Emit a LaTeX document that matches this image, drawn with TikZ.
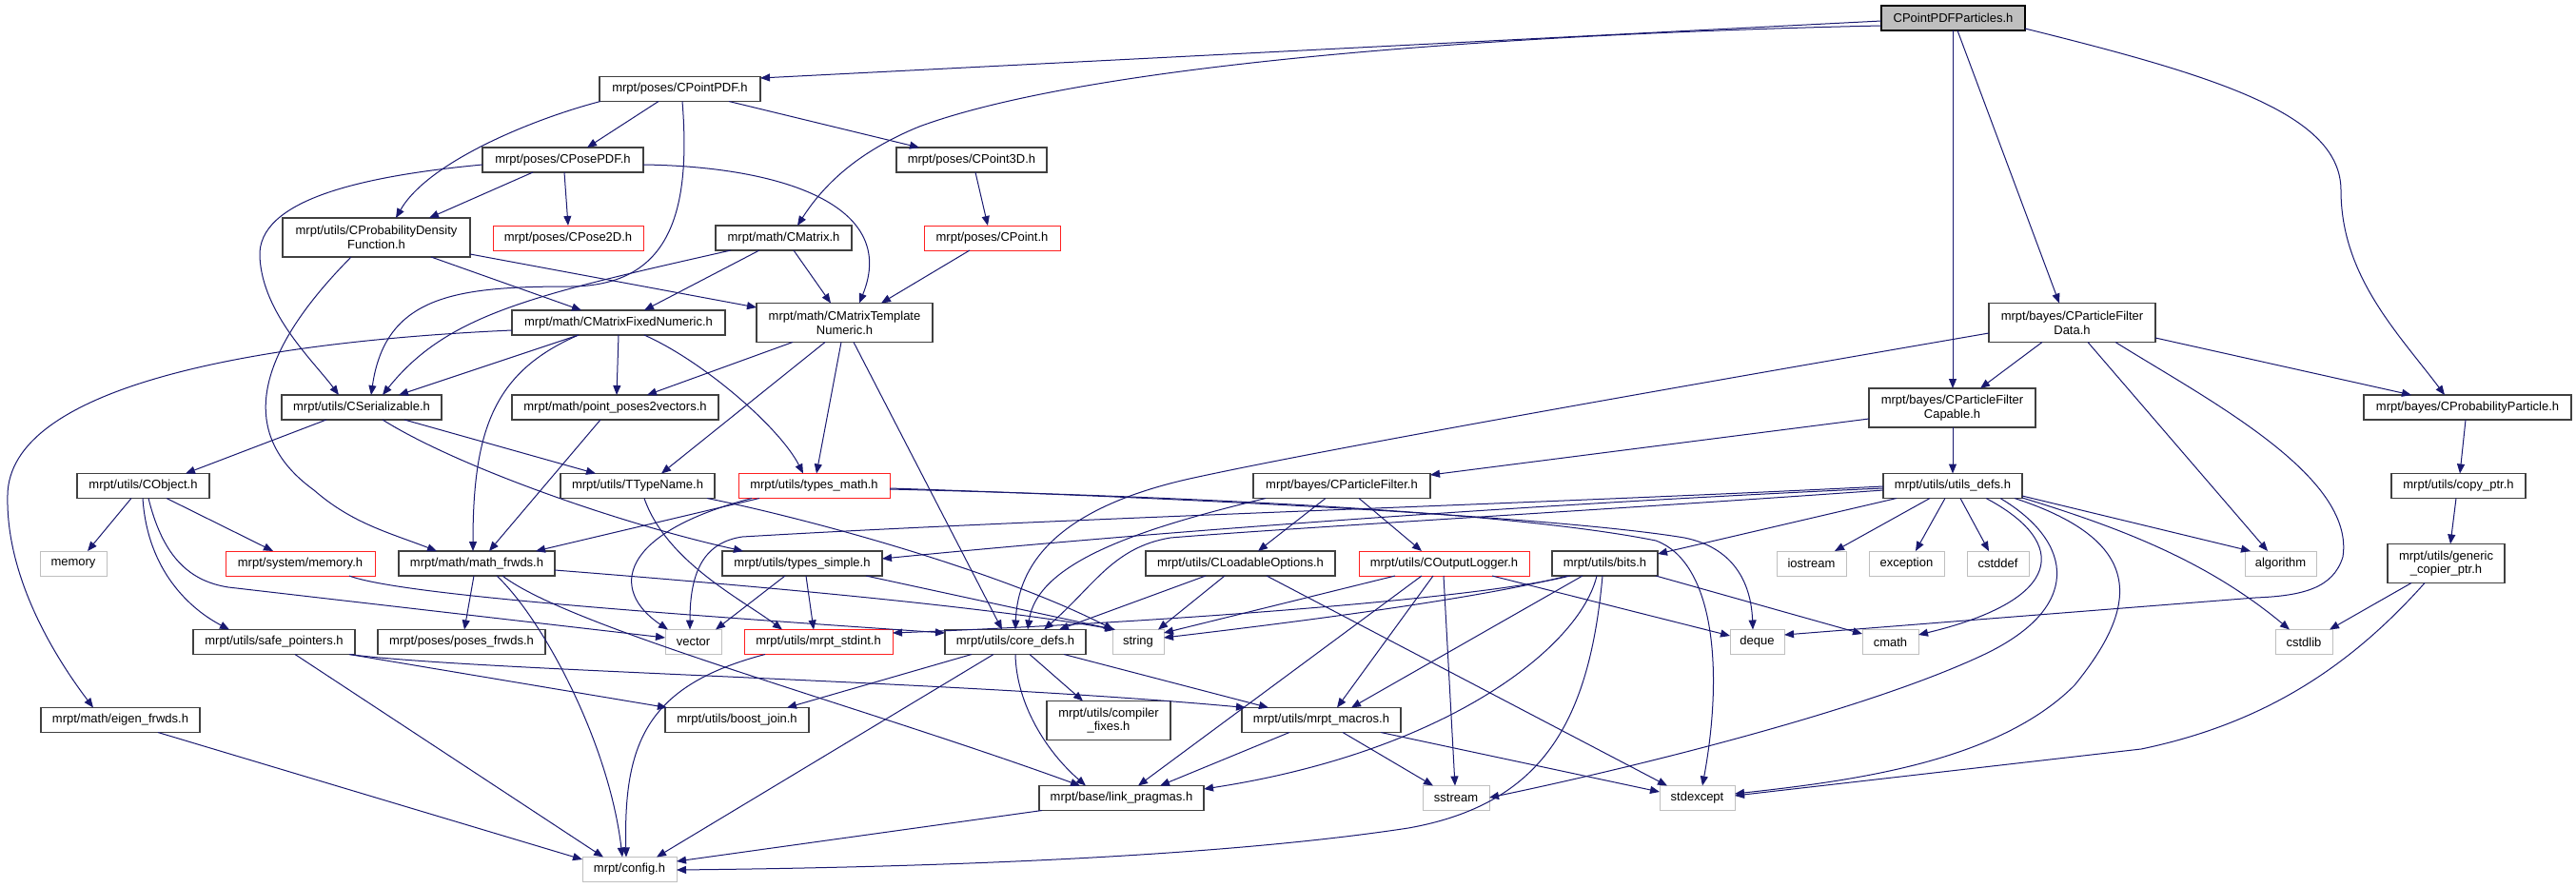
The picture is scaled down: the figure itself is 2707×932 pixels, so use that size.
\documentclass[tikz,border=0pt]{standalone}
\usepackage{fontspec}
\setmainfont{Liberation Sans}
\usetikzlibrary{arrows.meta}
\definecolor{mblue}{HTML}{191970}
\definecolor{lgray}{HTML}{BFBFBF}
\definecolor{bgray}{HTML}{404040}
\definecolor{rbord}{HTML}{FF2020}
\begin{document}
\begin{tikzpicture}[x=1pt,y=-1pt,
  nb/.style={draw=bgray, line width=1.3pt, inner sep=0pt, outer sep=0pt, align=center, font=\fontsize{13}{14.7}\selectfont, minimum height=26pt},
  rb/.style={nb, draw=rbord, line width=0.9pt},
  gb/.style={nb, draw=lgray, line width=1pt},
  rootb/.style={nb, fill=lgray, draw=black},
  tl/.style={minimum height=41pt},
  e/.style={draw=mblue, line width=1pt, -{Triangle[length=10pt,width=8pt]}}]
\fill[white] (0,0) rectangle (2707,932);
\useasboundingbox (0,0) rectangle (2707,932);
% row 0
\node[rootb,minimum width=151pt] (root) at (2052.5,19) {CPointPDFParticles.h};
% row 1
\node[nb,minimum width=169pt] (cpointpdf) at (714.5,93.5) {mrpt/poses/CPointPDF.h};
% row 2
\node[nb,minimum width=169pt] (cposepdf) at (591.5,168) {mrpt/poses/CPosePDF.h};
\node[nb,minimum width=158pt] (cpoint3d) at (1021,168) {mrpt/poses/CPoint3D.h};
% row 3
\node[nb,tl,minimum width=197pt] (cprobdens) at (395.5,249.5) {mrpt/utils/CProbabilityDensity\\Function.h};
\node[rb,minimum width=158pt] (cpose2d) at (597,250) {mrpt/poses/CPose2D.h};
\node[nb,minimum width=143pt] (cmatrix) at (823.5,250) {mrpt/math/CMatrix.h};
\node[rb,minimum width=143pt] (cpoint) at (1042.5,250) {mrpt/poses/CPoint.h};
% row 4
\node[nb,minimum width=224pt] (cmfixed) at (650,339) {mrpt/math/CMatrixFixedNumeric.h};
\node[nb,tl,minimum width=185pt] (cmtemplate) at (887.5,339) {mrpt/math/CMatrixTemplate\\Numeric.h};
\node[nb,tl,minimum width=175pt] (cpfdata) at (2177.5,339) {mrpt/bayes/CParticleFilter\\Data.h};
% row 5
\node[nb,minimum width=168pt] (cserial) at (380,428) {mrpt/utils/CSerializable.h};
\node[nb,minimum width=217pt] (pp2v) at (646.5,428) {mrpt/math/point\_poses2vectors.h};
\node[nb,tl,minimum width=175pt] (cpfcap) at (2051.5,428.5) {mrpt/bayes/CParticleFilter\\Capable.h};
\node[nb,minimum width=218pt] (cprobpart) at (2593,428) {mrpt/bayes/CProbabilityParticle.h};
% row 6
\node[nb,minimum width=139pt] (cobject) at (150.5,510.5) {mrpt/utils/CObject.h};
\node[nb,minimum width=162pt] (ttypename) at (670,510.5) {mrpt/utils/TTypeName.h};
\node[rb,minimum width=159pt] (typesmath) at (855.5,510.5) {mrpt/utils/types\_math.h};
\node[nb,minimum width=186pt] (cpfilter) at (1410,510.5) {mrpt/bayes/CParticleFilter.h};
\node[nb,minimum width=146pt] (utilsdefs) at (2052,510.5) {mrpt/utils/utils\_defs.h};
\node[nb,minimum width=141pt] (copyptr) at (2583.5,510.5) {mrpt/utils/copy\_ptr.h};
% row 7
\node[gb,minimum width=70pt] (memory) at (77,592) {memory};
\node[rb,minimum width=157pt] (sysmemory) at (315.5,592) {mrpt/system/memory.h};
\node[nb,minimum width=164pt] (mathfrwds) at (501,592) {mrpt/math/math\_frwds.h};
\node[nb,minimum width=168pt] (typessimple) at (843,592) {mrpt/utils/types\_simple.h};
\node[nb,minimum width=199pt] (cloadable) at (1303.5,592) {mrpt/utils/CLoadableOptions.h};
\node[rb,minimum width=179pt] (coutlogger) at (1517.5,592) {mrpt/utils/COutputLogger.h};
\node[nb,minimum width=111pt] (bits) at (1686.5,592) {mrpt/utils/bits.h};
\node[gb,minimum width=73pt] (iostream) at (1903.5,592) {iostream};
\node[gb,minimum width=79pt] (exception) at (2003.5,592) {exception};
\node[gb,minimum width=65pt] (cstddef) at (2099.5,592) {cstddef};
\node[gb,minimum width=75pt] (algorithm) at (2396.5,592) {algorithm};
\node[nb,tl,minimum width=123pt] (genericcp) at (2570.5,592) {mrpt/utils/generic\\\_copier\_ptr.h};
% row 8
\node[nb,minimum width=170pt] (safeptr) at (288,674.5) {mrpt/utils/safe\_pointers.h};
\node[nb,minimum width=176pt] (posesfrwds) at (485,674.5) {mrpt/poses/poses\_frwds.h};
\node[gb,minimum width=59pt] (vector) at (728.5,674.5) {vector};
\node[rb,minimum width=156pt] (stdint) at (860,674.5) {mrpt/utils/mrpt\_stdint.h};
\node[nb,minimum width=148pt] (coredefs) at (1067,674.5) {mrpt/utils/core\_defs.h};
\node[gb,minimum width=54pt] (string) at (1196,674.5) {string};
\node[gb,minimum width=57pt] (deque) at (1846.5,674.5) {deque};
\node[gb,minimum width=59pt] (cmath) at (1986.5,674.5) {cmath};
\node[gb,minimum width=60pt] (cstdlib) at (2421,674.5) {cstdlib};
% row 9
\node[nb,minimum width=167pt] (eigen) at (126.5,756.5) {mrpt/math/eigen\_frwds.h};
\node[nb,minimum width=151pt] (boostjoin) at (774.5,756.5) {mrpt/utils/boost\_join.h};
\node[nb,tl,minimum width=130pt] (compfix) at (1165,757) {mrpt/utils/compiler\\\_fixes.h};
\node[nb,minimum width=167pt] (macros) at (1388.5,756.5) {mrpt/utils/mrpt\_macros.h};
% row 10
\node[nb,minimum width=173pt] (linkprag) at (1178.5,838.5) {mrpt/base/link\_pragmas.h};
\node[gb,minimum width=70pt] (sstream) at (1530,838.5) {sstream};
\node[gb,minimum width=79pt] (stdexcept) at (1783.5,838.5) {stdexcept};
% row 11
\node[gb,minimum width=99pt] (config) at (661.5,913.5) {mrpt/config.h};

% ---- edges ----
\draw[e] (root.west |- 0,22) -- (cpointpdf.east |- 0,82);
\draw[e] (root.west |- 0,27) .. controls (1600,35) and (1150,65) .. (966,133) .. controls (900,160) and (865,195) .. (cmatrix.north -| 838,0);
\draw[e] (root.south -| 2057,0) -- (cpfdata.north -| 2164,0);
\draw[e] (root.south -| 2052,0) -- (cpfcap.north -| 2052,0);
\draw[e] (root.east |- 0,30) .. controls (2330,80) and (2460,120) .. (2460,200) .. controls (2460,290) and (2520,350) .. (cprobpart.north -| 2569,0);

\draw[e] (cpointpdf.south -| 692,0) -- (cposepdf.north -| 617,0);
\draw[e] (cpointpdf.south -| 631,0) .. controls (560,125) and (450,170) .. (cprobdens.north -| 416,0);
\draw[e] (cpointpdf.south -| 766,0) -- (cpoint3d.north -| 966,0);
\draw[e] (cpointpdf.south -| 717,0) .. controls (727,230) and (700,300) .. (600,301) .. controls (480,301) and (405,310) .. (cserial.north -| 390,0);

\draw[e] (cposepdf.south -| 560,0) -- (cprobdens.north -| 451,0);
\draw[e] (cposepdf.south -| 593,0) -- (cpose2d.north -| 597,0);
\draw[e] (cposepdf.west |- 0,173) .. controls (380,185) and (270,210) .. (273,270) .. controls (276,330) and (330,380) .. (cserial.north -| 356,0);
\draw[e] (cposepdf.east |- 0,173) .. controls (820,175) and (945,215) .. (cmtemplate.north -| 903,0);

\draw[e] (cprobdens.south -| 453,0) -- (cmfixed.north -| 611,0);
\draw[e] (cprobdens.east |- 0,267) -- (cmtemplate.west |- 0,323);
\draw[e] (cprobdens.south -| 369,0) .. controls (280,360) and (240,450) .. (330,515) .. controls (370,550) and (410,560) .. (mathfrwds.north -| 459,0);

\draw[e] (cmatrix.south -| 768,0) .. controls (560,310) and (470,330) .. (cserial.north -| 402,0);
\draw[e] (cmatrix.south -| 798,0) -- (cmfixed.north -| 677,0);
\draw[e] (cmatrix.south -| 834,0) -- (cmtemplate.north -| 873,0);
\draw[e] (cpoint3d.south -| 1025,0) -- (cpoint.north -| 1038,0);
\draw[e] (cpoint.south -| 1019,0) -- (cmtemplate.north -| 926,0);

\draw[e] (cmfixed.west |- 0,347) .. controls (250,360) and (10,410) .. (8,520) .. controls (6,600) and (50,680) .. (eigen.north -| 98,0);
\draw[e] (cmfixed.south -| 608,0) -- (cserial.north -| 419,0);
\draw[e] (cmfixed.south -| 650,0) -- (pp2v.north -| 648,0);
\draw[e] (cmfixed.south -| 608,0) .. controls (520,390) and (497,450) .. (mathfrwds.north -| 497,0);
\draw[e] (cmfixed.south -| 677,0) .. controls (740,380) and (820,450) .. (typesmath.north -| 844,0);

\draw[e] (cmtemplate.south -| 833,0) -- (pp2v.north -| 680,0);
\draw[e] (cmtemplate.south -| 867,0) -- (ttypename.north -| 695,0);
\draw[e] (cmtemplate.south -| 884,0) -- (typesmath.north -| 858,0);
\draw[e] (cmtemplate.south -| 897,0) -- (coredefs.north -| 1053,0);

\draw[e] (cserial.south -| 343,0) -- (cobject.north -| 195,0);
\draw[e] (cserial.south -| 425,0) -- (ttypename.north -| 626,0);
\draw[e] (cserial.south -| 402,0) .. controls (480,490) and (650,550) .. (typessimple.north -| 781,0);
\draw[e] (pp2v.south -| 631,0) -- (mathfrwds.north -| 514,0);

\draw[e] (cobject.south -| 138,0) -- (memory.north -| 92,0);
\draw[e] (cobject.south -| 175,0) -- (sysmemory.north -| 287,0);
\draw[e] (cobject.south -| 150,0) .. controls (155,600) and (200,640) .. (safeptr.north -| 241,0);
\draw[e] (cobject.south -| 156,0) .. controls (170,580) and (195,610) .. (240,617) -- (vector.west |- 0,670);

\draw[e] (sysmemory.south -| 367,0) .. controls (420,625) and (700,645) .. (coredefs.west |- 0,665);

\draw[e] (ttypename.south -| 743,0) .. controls (850,545) and (1050,600) .. (string.north -| 1170,0);
\draw[e] (ttypename.south -| 677,0) .. controls (700,590) and (780,630) .. (stdint.north -| 822,0);

\draw[e] (typesmath.south -| 798,0) -- (mathfrwds.north -| 563,0);
\draw[e] (typesmath.south -| 790,0) .. controls (650,560) and (640,620) .. (vector.north -| 702,0);
\draw[e] (typesmath.east |- 0,513) .. controls (1300,525) and (1650,545) .. (1770,565) .. controls (1820,575) and (1840,610) .. (deque.north -| 1842,0);
\draw[e] (typesmath.east |- 0,514) .. controls (1300,523) and (1600,540) .. (1740,568) .. controls (1800,590) and (1812,700) .. (stdexcept.north -| 1789,0);

\draw[e] (typessimple.south -| 825,0) -- (vector.north -| 752,0);
\draw[e] (typessimple.south -| 847,0) -- (stdint.north -| 855,0);
\draw[e] (typessimple.south -| 910,0) -- (string.north -| 1171,0);

\draw[e] (mathfrwds.south -| 498,0) -- (posesfrwds.north -| 488,0);
\draw[e] (mathfrwds.south -| 522,0) .. controls (570,650) and (640,780) .. (config.north -| 654,0);
\draw[e] (mathfrwds.south -| 528,0) .. controls (600,660) and (900,740) .. (linkprag.north -| 1135,0);
\draw[e] (mathfrwds.east |- 0,599) .. controls (850,620) and (1050,640) .. (string.north -| 1172,0);

\draw[e] (stdint.south -| 804,0) .. controls (680,720) and (655,780) .. (config.north -| 658,0);

\draw[e] (safeptr.south -| 367,0) -- (boostjoin.north -| 701,0);
\draw[e] (safeptr.south -| 310,0) -- (config.north -| 634,0);
\draw[e] (safeptr.south -| 367,0) .. controls (500,705) and (1000,715) .. (macros.north -| 1309,0);

\draw[e] (eigen.south -| 166,0) -- (config.west |- 0,903);

\draw[e] (coredefs.south -| 1021,0) -- (boostjoin.north -| 827,0);
\draw[e] (coredefs.south -| 1044,0) -- (config.north -| 690,0);
\draw[e] (coredefs.south -| 1082,0) -- (compfix.north -| 1138,0);
\draw[e] (coredefs.south -| 1118,0) -- (macros.north -| 1333,0);
\draw[e] (coredefs.south -| 1067,0) .. controls (1068,740) and (1100,790) .. (linkprag.north -| 1141,0);

\draw[e] (linkprag.south -| 1095,0) -- (config.east |- 0,905);

\draw[e] (macros.south -| 1355,0) -- (linkprag.north -| 1219,0);
\draw[e] (macros.south -| 1411,0) -- (sstream.north -| 1506,0);
\draw[e] (macros.south -| 1451,0) -- (stdexcept.west |- 0,832);

\draw[e] (cloadable.south -| 1267,0) -- (coredefs.north -| 1113,0);
\draw[e] (cloadable.south -| 1287,0) -- (string.north -| 1217,0);
\draw[e] (cloadable.south -| 1331,0) -- (stdexcept.north -| 1752,0);

\draw[e] (coutlogger.south -| 1466,0) -- (string.east |- 0,665);
\draw[e] (coutlogger.south -| 1494,0) -- (linkprag.north -| 1196,0);
\draw[e] (coutlogger.south -| 1506,0) -- (macros.north -| 1405,0);
\draw[e] (coutlogger.south -| 1517,0) -- (sstream.north -| 1529,0);
\draw[e] (coutlogger.south -| 1568,0) -- (deque.west |- 0,668);

\draw[e] (bits.south -| 1650,0) .. controls (1550,630) and (1200,655) .. (stdint.east |- 0,665);
\draw[e] (bits.south -| 1647,0) .. controls (1550,630) and (1350,655) .. (string.east |- 0,670);
\draw[e] (bits.south -| 1663,0) -- (macros.north -| 1420,0);
\draw[e] (bits.south -| 1678,0) .. controls (1660,680) and (1520,790) .. (linkprag.east |- 0,829);
\draw[e] (bits.south -| 1684,0) .. controls (1670,760) and (1620,845) .. (1480,870) .. controls (1250,905) and (900,912) .. (config.east |- 0,914);
\draw[e] (bits.south -| 1740,0) -- (cmath.west |- 0,666);

\draw[e] (cpfilter.south -| 1330,0) .. controls (1200,555) and (1090,590) .. (coredefs.north -| 1080,0);
\draw[e] (cpfilter.south -| 1393,0) -- (cloadable.north -| 1322,0);
\draw[e] (cpfilter.south -| 1428,0) -- (coutlogger.north -| 1494,0);

\draw[e] (cpfcap.south -| 2052,0) -- (utilsdefs.north -| 2052,0);
\draw[e] (cpfcap.west |- 0,440) -- (cpfilter.east |- 0,499);

\draw[e] (cpfdata.south -| 2146,0) -- (cpfcap.north -| 2081,0);
\draw[e] (cpfdata.east |- 0,355) -- (cprobpart.north -| 2534,0);
\draw[e] (cpfdata.west |- 0,350) .. controls (1800,400) and (1400,470) .. (1250,503) .. controls (1130,530) and (1070,580) .. (coredefs.north -| 1067,0);
\draw[e] (cpfdata.south -| 2194,0) -- (algorithm.north -| 2383,0);
\draw[e] (cpfdata.south -| 2223,0) .. controls (2320,420) and (2475,500) .. (2462,585) .. controls (2452,618) and (2420,626) .. (2370,628) -- (deque.east |- 0,667);

\draw[e] (utilsdefs.west |- 0,515) .. controls (1700,535) and (1350,555) .. (1230,565) .. controls (1170,575) and (1150,615) .. (coredefs.north -| 1097,0);
\draw[e] (utilsdefs.west |- 0,513) .. controls (1600,530) and (1200,560) .. (typessimple.east |- 0,587);
\draw[e] (utilsdefs.west |- 0,511) .. controls (1600,530) and (1100,545) .. (780,564) .. controls (740,570) and (725,600) .. (vector.north -| 725,0);
\draw[e] (utilsdefs.south -| 1993,0) -- (bits.east |- 0,582);
\draw[e] (utilsdefs.south -| 2028,0) -- (iostream.north -| 1928,0);
\draw[e] (utilsdefs.south -| 2044,0) -- (exception.north -| 2013,0);
\draw[e] (utilsdefs.south -| 2060,0) -- (cstddef.north -| 2090,0);
\draw[e] (utilsdefs.south -| 2087,0) .. controls (2175,570) and (2170,630) .. (cmath.east |- 0,667);
\draw[e] (utilsdefs.south -| 2102,0) .. controls (2180,570) and (2190,640) .. (2080,690) .. controls (1950,750) and (1700,810) .. (sstream.east |- 0,838);
\draw[e] (utilsdefs.south -| 2117,0) .. controls (2260,570) and (2245,640) .. (2180,720) .. controls (2100,800) and (1950,820) .. (stdexcept.east |- 0,834);
\draw[e] (utilsdefs.east |- 0,521) -- (algorithm.north -| 2365,0);
\draw[e] (utilsdefs.east |- 0,523) .. controls (2230,555) and (2320,590) .. (cstdlib.north -| 2406,0);

\draw[e] (cprobpart.south -| 2591,0) -- (copyptr.north -| 2585,0);
\draw[e] (copyptr.south -| 2581,0) -- (genericcp.north -| 2575,0);
\draw[e] (genericcp.south -| 2534,0) -- (cstdlib.north -| 2448,0);
\draw[e] (genericcp.south -| 2548,0) .. controls (2470,700) and (2380,760) .. (2250,787) -- (stdexcept.east |- 0,836);
\end{tikzpicture}
\end{document}
